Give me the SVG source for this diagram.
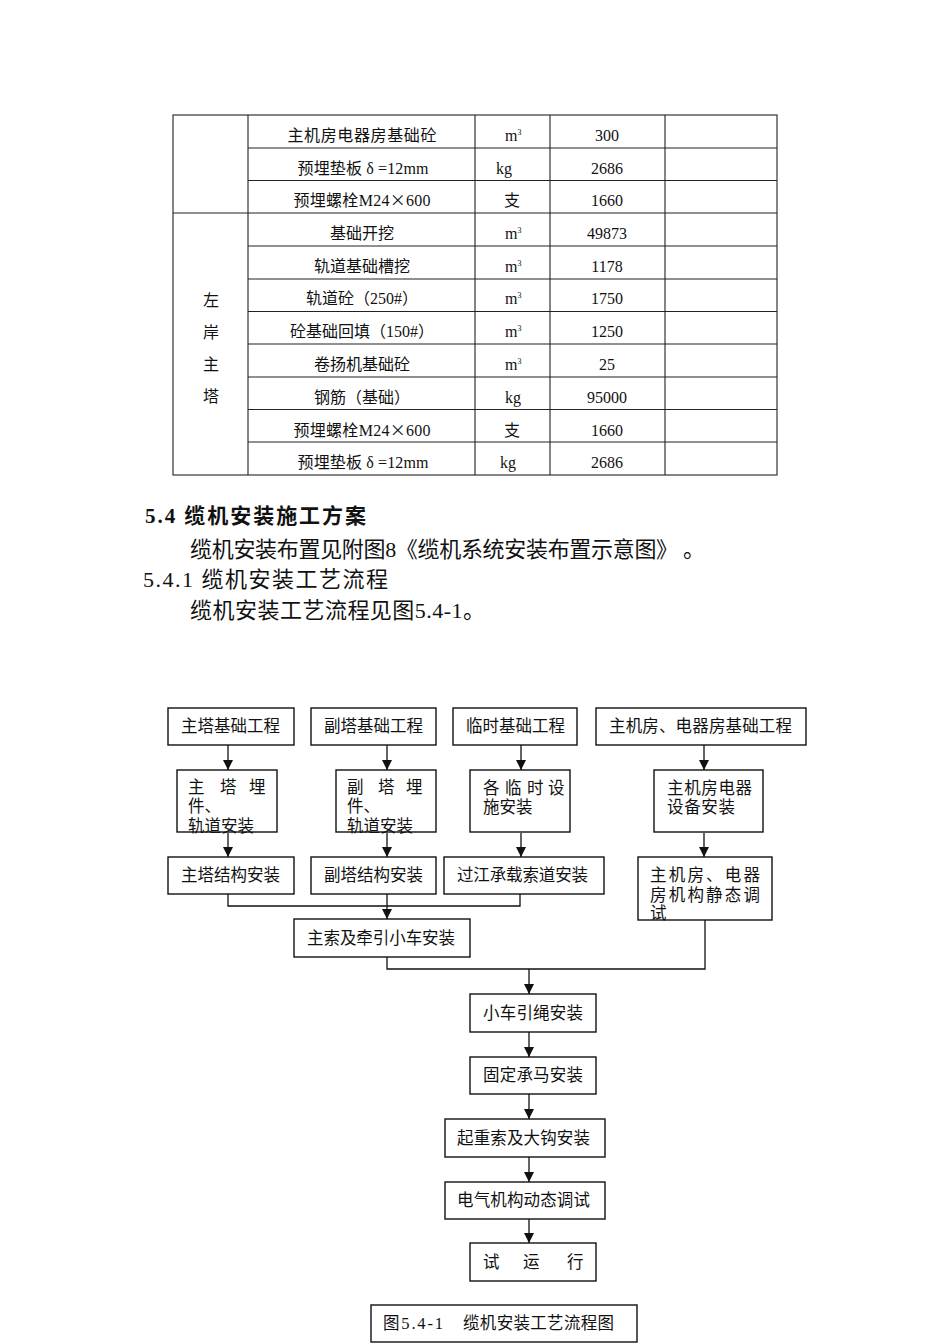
<svg xmlns="http://www.w3.org/2000/svg" width="950" height="1344" viewBox="0 0 950 1344">
<style>
.t{font-family:"Liberation Serif","Noto Sans CJK SC",serif;fill:#111;}
.tb{font-size:16px;}
.fc{font-size:16.5px;}
.body{font-size:22px;}
.h{font-size:21px;font-weight:bold;}
.ln{stroke:#222;stroke-width:1.1;fill:none;}
.box{fill:#fff;stroke:#111;stroke-width:1.4;}
.cn{stroke:#111;stroke-width:1.3;fill:none;}
.m{text-anchor:middle;}
.cjk{font-family:"Noto Sans CJK SC",sans-serif;}
</style>
<defs>
<marker id="arr" markerUnits="userSpaceOnUse" markerWidth="10" markerHeight="11" refX="10" refY="5" orient="auto" viewBox="0 0 10 10">
<path d="M0,0 L10,5 L0,10 z" fill="#111"/>
</marker>
</defs>
<rect width="950" height="1344" fill="#fff"/>

<g id="table">
<rect class="ln" x="173" y="115" width="604" height="360"/>
<path class="ln" d="M248,115V475M475,115V475M550,115V475M665,115V475"/>
<path class="ln" d="M248,148H777M248,180.5H777M173,213H777M248,246H777M248,279H777M248,311.5H777M248,344H777M248,377H777M248,409.5H777M248,442H777"/>
<g class="t tb">
<text class="m" x="362" y="141" textLength="149">主机房电器房基础砼</text>
<text class="m" x="363" y="174" textLength="131">预埋垫板 δ =12mm</text>
<text class="m" x="362" y="206" textLength="137">预埋螺栓M24<tspan class="cjk">×</tspan>600</text>
<text class="m" x="362" y="239">基础开挖</text>
<text class="m" x="362" y="272">轨道基础槽挖</text>
<text class="m" x="362" y="304">轨道砼（250#）</text>
<text class="m" x="362" y="337">砼基础回填（150#）</text>
<text class="m" x="362" y="370">卷扬机基础砼</text>
<text class="m" x="362" y="403">钢筋（基础）</text>
<text class="m" x="362" y="436" textLength="137">预埋螺栓M24<tspan class="cjk">×</tspan>600</text>
<text class="m" x="363" y="468" textLength="131">预埋垫板 δ =12mm</text>

<text x="505" y="141">m<tspan font-size="8" dy="-6">3</tspan></text>
<text x="496" y="174">kg</text>
<text class="m" x="512" y="206">支</text>
<text x="505" y="239">m<tspan font-size="8" dy="-6">3</tspan></text>
<text x="505" y="272">m<tspan font-size="8" dy="-6">3</tspan></text>
<text x="505" y="304">m<tspan font-size="8" dy="-6">3</tspan></text>
<text x="505" y="337">m<tspan font-size="8" dy="-6">3</tspan></text>
<text x="505" y="370">m<tspan font-size="8" dy="-6">3</tspan></text>
<text x="505" y="403">kg</text>
<text class="m" x="512" y="436">支</text>
<text x="500" y="468">kg</text>

<text class="m" x="607" y="141">300</text>
<text class="m" x="607" y="174">2686</text>
<text class="m" x="607" y="206">1660</text>
<text class="m" x="607" y="239">49873</text>
<text class="m" x="607" y="272">1178</text>
<text class="m" x="607" y="304">1750</text>
<text class="m" x="607" y="337">1250</text>
<text class="m" x="607" y="370">25</text>
<text class="m" x="607" y="403">95000</text>
<text class="m" x="607" y="436">1660</text>
<text class="m" x="607" y="468">2686</text>

<text class="m" x="211" y="306">左</text>
<text class="m" x="211" y="338">岸</text>
<text class="m" x="211" y="370">主</text>
<text class="m" x="211" y="402">塔</text>
</g>
</g>

<g id="text-block" class="t">
<text class="h" x="145" y="523" textLength="221" lengthAdjust="spacing">5.4 缆机安装施工方案</text>
<text class="body" x="190" y="557" textLength="515" lengthAdjust="spacing">缆机安装布置见附图8《缆机系统安装布置示意图》 。</text>
<text class="body" x="143" y="587" textLength="245" lengthAdjust="spacing">5.4.1 缆机安装工艺流程</text>
<text class="body" x="190" y="618" textLength="295" lengthAdjust="spacing">缆机安装工艺流程见图5.4-1。</text>
</g>

<g id="connectors">
<path class="cn" d="M228,745V770" marker-end="url(#arr)"/>
<path class="cn" d="M387,745V770" marker-end="url(#arr)"/>
<path class="cn" d="M521,745V770" marker-end="url(#arr)"/>
<path class="cn" d="M704,745V770" marker-end="url(#arr)"/>
<path class="cn" d="M228,833V857" marker-end="url(#arr)"/>
<path class="cn" d="M387,833V857" marker-end="url(#arr)"/>
<path class="cn" d="M521,833V857" marker-end="url(#arr)"/>
<path class="cn" d="M704,833V857" marker-end="url(#arr)"/>
<path class="cn" d="M228,894V906H520V894"/>
<path class="cn" d="M387,894V919" marker-end="url(#arr)"/>
<path class="cn" d="M387,957V969H705V920"/>
<path class="cn" d="M529,969V994" marker-end="url(#arr)"/>
<path class="cn" d="M529,1032V1057" marker-end="url(#arr)"/>
<path class="cn" d="M529,1094V1119" marker-end="url(#arr)"/>
<path class="cn" d="M529,1157V1182" marker-end="url(#arr)"/>
<path class="cn" d="M529,1219V1243" marker-end="url(#arr)"/>
</g>

<g id="n1"><rect class="box" x="168" y="708" width="126" height="37"/><text class="t fc" x="181" y="732" textLength="99">主塔基础工程</text></g>
<g id="n2"><rect class="box" x="311" y="708" width="125" height="37"/><text class="t fc" x="324" y="732" textLength="99">副塔基础工程</text></g>
<g id="n3"><rect class="box" x="453" y="708" width="124" height="37"/><text class="t fc" x="466" y="732" textLength="99">临时基础工程</text></g>
<g id="n4"><rect class="box" x="596" y="708" width="210" height="37"/><text class="t fc" x="609" y="732" textLength="183">主机房、电器房基础工程</text></g>

<g id="n5"><rect class="box" x="177" y="770" width="100" height="62"/>
<text class="t fc" y="793"><tspan x="188">主</tspan><tspan x="220">塔</tspan><tspan x="249">埋</tspan></text>
<text class="t fc" x="188" y="812">件、</text>
<text class="t fc" x="188" y="832">轨道安装</text></g>
<g id="n6"><rect class="box" x="336" y="770" width="100" height="62"/>
<text class="t fc" y="793"><tspan x="347">副</tspan><tspan x="378">塔</tspan><tspan x="406">埋</tspan></text>
<text class="t fc" x="347" y="812">件、</text>
<text class="t fc" x="347" y="832">轨道安装</text></g>
<g id="n7"><rect class="box" x="470" y="770" width="100" height="62"/>
<text class="t fc" y="794"><tspan x="483">各</tspan><tspan x="505">临</tspan><tspan x="527">时</tspan><tspan x="548">设</tspan></text>
<text class="t fc" x="483" y="813">施安装</text></g>
<g id="n8"><rect class="box" x="654" y="770" width="109" height="62"/>
<text class="t fc" x="667" y="794" textLength="85">主机房电器</text>
<text class="t fc" x="667" y="813" textLength="68">设备安装</text></g>

<g id="n9"><rect class="box" x="168" y="857" width="126" height="37"/><text class="t fc" x="181" y="881" textLength="99">主塔结构安装</text></g>
<g id="n10"><rect class="box" x="311" y="857" width="125" height="37"/><text class="t fc" x="324" y="881" textLength="99">副塔结构安装</text></g>
<g id="n11"><rect class="box" x="444" y="857" width="160" height="37"/><text class="t fc" x="457" y="881" textLength="131">过江承载索道安装</text></g>
<g id="n12"><rect class="box" x="638" y="857" width="134" height="63"/>
<text class="t fc" x="650" y="881" textLength="110" lengthAdjust="spacing">主机房、电器</text>
<text class="t fc" x="650" y="901" textLength="110" lengthAdjust="spacing">房机构静态调</text>
<text class="t fc" x="650" y="919">试</text></g>

<g id="n13"><rect class="box" x="294" y="919" width="176" height="38"/><text class="t fc" x="307" y="944" textLength="148">主索及牵引小车安装</text></g>
<g id="n14"><rect class="box" x="470" y="994" width="126" height="38"/><text class="t fc" x="483" y="1019" textLength="100">小车引绳安装</text></g>
<g id="n15"><rect class="box" x="470" y="1057" width="126" height="37"/><text class="t fc" x="483" y="1081" textLength="100">固定承马安装</text></g>
<g id="n16"><rect class="box" x="445" y="1119" width="160" height="38"/><text class="t fc" x="457" y="1144" textLength="133">起重索及大钩安装</text></g>
<g id="n17"><rect class="box" x="445" y="1182" width="160" height="37"/><text class="t fc" x="457" y="1206" textLength="133">电气机构动态调试</text></g>
<g id="n18"><rect class="box" x="470" y="1243" width="126" height="38"/>
<text class="t fc" y="1268"><tspan x="483">试</tspan><tspan x="523">运</tspan><tspan x="567">行</tspan></text></g>

<g id="caption"><rect class="box" x="371" y="1305" width="266" height="37" stroke-width="1.1"/>
<text class="t fc" x="383" y="1329" textLength="60">图5.4-1</text>
<text class="t fc" x="463" y="1329" textLength="151">缆机安装工艺流程图</text></g>
</svg>
